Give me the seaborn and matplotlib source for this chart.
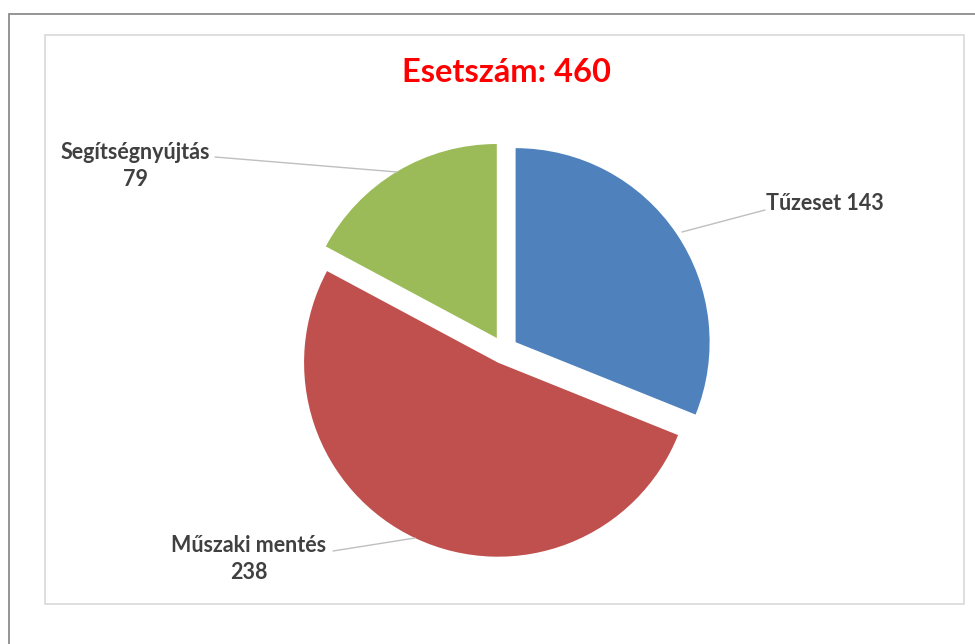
import matplotlib
matplotlib.use("Agg")
import matplotlib.pyplot as plt
import seaborn as sns
from matplotlib.patches import Rectangle

# ---- data ----
categories = ["Tűzeset", "Műszaki mentés", "Segítségnyújtás"]
values = [143, 238, 79]
colors = ["#4F81BD", "#C0504D", "#9BBB59"]
title_text = "Esetszám: 460"

sns.set_style("white")
plt.rcParams['font.family'] = ['Lato', 'DejaVu Sans']

W, H = 975, 644
fig = plt.figure(figsize=(W / 100, H / 100), dpi=100)
ax = fig.add_axes([0, 0, 1, 1])

def Y(y):
    return H - y

# pie: center (504,350) px, radius 194 px, explode 14 px
wedges, _ = ax.pie(values, colors=colors, startangle=90, counterclock=False,
                   center=(504, Y(350)), radius=194, explode=[14, 14, 14],
                   wedgeprops=dict(linewidth=0))
ax.set_xlim(0, W)
ax.set_ylim(0, H)
ax.set_aspect('auto')
ax.axis('off')

# borders
ax.add_patch(Rectangle((9, Y(14) - 700), 1000, 700, fill=False,
                       edgecolor="#8C8C8C", linewidth=1.3, zorder=0, clip_on=False))
ax.add_patch(Rectangle((45, Y(604)), 964 - 45, 604 - 35, fill=False,
                       edgecolor="#D9D9D9", linewidth=1.2, zorder=0))

# title
ax.text(507, Y(72), title_text, color="#FF0000", fontsize=23.5, fontweight='bold',
        ha='center', va='center')

lab_kw = dict(color="#404040", fontsize=15.5, fontweight='bold', ha='center',
              va='center', linespacing=1.3)

# labels
ax.text(825, Y(203), f"{categories[0]} {values[0]}", **lab_kw)
ax.text(249, Y(559), f"{categories[1]}\n{values[1]}", **lab_kw)
ax.text(135, Y(166), f"{categories[2]}\n{values[2]}", **lab_kw)

# leader lines
lc = dict(color="#BFBFBF", linewidth=1.0, zorder=1)
ax.plot([765, 682], [Y(210), Y(232)], **lc)
ax.plot([333, 415], [Y(551), Y(538)], **lc)
ax.plot([215, 397], [Y(157), Y(172)], **lc)

fig.savefig("out.png", dpi=100)
